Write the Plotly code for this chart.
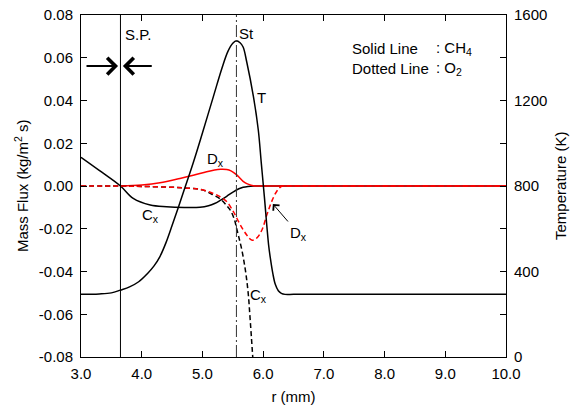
import plotly.graph_objects as go

# ---- data ----
# Temperature (K), right axis
r_T = [3.0, 3.3, 3.5, 3.65, 3.8, 3.95, 4.1, 4.2, 4.3, 4.4, 4.5, 4.6, 4.7, 4.85, 5.0,
       5.18, 5.32, 5.42, 5.5, 5.56, 5.62, 5.67, 5.73, 5.84, 5.92, 5.97, 6.02, 6.09, 6.12,
       6.16, 6.2, 6.25, 6.3, 6.36, 6.5, 7.0, 10.0]
T = [293, 295, 300, 313, 328, 352, 392, 425, 470, 535, 615, 697, 782, 910, 1048,
     1218, 1350, 1430, 1468, 1480, 1470, 1450, 1380, 1218, 1062, 906, 750, 524, 460,
     390, 340, 310, 298, 293, 293, 293, 293]

# CH4 convective flux Cx (solid black)
r_cx_ch4 = [3.0, 3.3, 3.65, 3.86, 4.14, 4.41, 4.7, 4.96, 5.1, 5.2, 5.3, 5.4, 5.51, 5.6,
            5.67, 5.75, 5.85, 6.0, 6.5, 10.0]
cx_ch4 = [0.0134, 0.0073, 0.0, -0.0058, -0.0089, -0.0097, -0.0100, -0.0099, -0.0092,
          -0.0082, -0.0066, -0.0048, -0.0027, -0.0013, -0.0006, -0.0002, 0.0, 0.0, 0.0, 0.0]

# CH4 diffusive flux Dx (solid red)
r_dx_ch4 = [3.65, 4.0, 4.3, 4.63, 4.85, 5.07, 5.2, 5.3, 5.4, 5.47, 5.56, 5.62, 5.67,
            5.73, 5.8, 5.9, 6.0, 6.5, 10.0]
dx_ch4 = [0.0, 0.0005, 0.0015, 0.0035, 0.0050, 0.0067, 0.0075, 0.0078, 0.0077, 0.0071,
          0.0053, 0.0036, 0.0022, 0.0011, 0.0004, 0.0, 0.0, 0.0, 0.0]

# O2 convective flux Cx (dashed black)
r_cx_o2 = [3.0, 3.65, 4.0, 4.5, 4.8, 5.0, 5.18, 5.3, 5.4, 5.47, 5.53, 5.56, 5.6, 5.65,
           5.7, 5.73, 5.76, 5.78, 5.8, 5.83]
cx_o2 = [0.0, 0.0, -0.0002, -0.0006, -0.0011, -0.0018, -0.0042, -0.0062, -0.0092, -0.0118,
         -0.016, -0.0195, -0.024, -0.030, -0.038, -0.044, -0.052, -0.060, -0.068, -0.0805]

# O2 diffusive flux Dx (dashed red)
r_dx_o2 = [3.0, 3.65, 4.0, 4.5, 4.8, 5.0, 5.18, 5.29, 5.4, 5.51, 5.62, 5.73, 5.81, 5.89,
           5.98, 6.06, 6.14, 6.22, 6.31, 6.4, 6.6, 10.0]
dx_o2 = [0.0, 0.0, -0.0002, -0.0006, -0.0011, -0.0018, -0.0035, -0.0050, -0.0073, -0.012,
         -0.018, -0.0229, -0.0253, -0.0245, -0.0206, -0.0136, -0.0073, -0.0027, 0.0, 0.0,
         0.0, 0.0]

x_ticks = [3, 4, 5, 6, 7, 8, 9, 10]
x_ticklabels = ["3.0", "4.0", "5.0", "6.0", "7.0", "8.0", "9.0", "10.0"]
y_ticks = [-0.08, -0.06, -0.04, -0.02, 0.0, 0.02, 0.04, 0.06, 0.08]
y_ticklabels = ["-0.08", "-0.06", "-0.04", "-0.02", "0.00", "0.02", "0.04", "0.06", "0.08"]
y2_ticks = [0, 400, 800, 1200, 1600]
y2_ticklabels = ["0", "400", "800", "1200", "1600"]

sp_r = 3.65
st_r = 5.56

FONT = "Arial, Liberation Sans, sans-serif"
fig = go.Figure()

SM = 1.0
fig.add_trace(go.Scatter(x=r_cx_ch4, y=cx_ch4, mode="lines",
                         line=dict(color="black", width=1.5, shape="spline", smoothing=SM)))
fig.add_trace(go.Scatter(x=r_dx_ch4, y=dx_ch4, mode="lines",
                         line=dict(color="red", width=1.5, shape="spline", smoothing=SM)))
fig.add_trace(go.Scatter(x=r_cx_o2, y=cx_o2, mode="lines",
                         line=dict(color="black", width=1.5, dash="5px,3px",
                                   shape="spline", smoothing=SM)))
fig.add_trace(go.Scatter(x=r_dx_o2, y=dx_o2, mode="lines",
                         line=dict(color="red", width=1.5, dash="5px,3px",
                                   shape="spline", smoothing=SM)))
fig.add_trace(go.Scatter(x=r_T, y=T, mode="lines", yaxis="y2",
                         line=dict(color="black", width=1.5, shape="spline", smoothing=SM)))

# S.P. and St lines
fig.add_shape(type="line", xref="x", yref="paper", x0=sp_r, x1=sp_r, y0=0, y1=1,
              line=dict(color="black", width=1))
fig.add_shape(type="line", xref="x", yref="paper", x0=st_r, x1=st_r, y0=0, y1=1,
              line=dict(color="#333333", width=1, dash="12px,3px,2px,3px"))

ann = []
def txt(x, y, s, xanchor="center", size=15):
    ann.append(dict(x=x, y=y, xref="x", yref="y", text=s, showarrow=False,
                    xanchor=xanchor, yanchor="middle",
                    font=dict(family=FONT, size=size, color="black")))

txt(3.94, 0.0711, "S.P.")
txt(5.73, 0.0713, "St")
txt(5.98, 0.0416, "T")
txt(5.21, 0.0126, "D<sub>x</sub>")
txt(4.14, -0.0140, "C<sub>x</sub>")
txt(6.58, -0.0220, "D<sub>x</sub>")
txt(5.92, -0.0510, "C<sub>x</sub>")
txt(7.43, 0.0641, "Solid Line", xanchor="left")
txt(7.43, 0.0552, "Dotted Line", xanchor="left")
txt(8.82, 0.0641, ": CH<sub>4</sub>", xanchor="left")
txt(8.82, 0.0552, ": O<sub>2</sub>", xanchor="left")

# axis titles for the two y axes, placed in the margins
ann.append(dict(x=-0.141, y=0.5, xref="paper", yref="paper", showarrow=False,
                text="Mass Flux (kg/m<sup>2</sup> s)", textangle=-90,
                xanchor="center", yanchor="middle",
                font=dict(family=FONT, size=15, color="black")))
ann.append(dict(x=1.127, y=0.5, xref="paper", yref="paper", showarrow=False,
                text="Temperature (K)", textangle=-90,
                xanchor="center", yanchor="middle",
                font=dict(family=FONT, size=15, color="black")))

# arrows
def arrow(x, y, ax, ay, width, size):
    ann.append(dict(x=x, y=y, ax=ax, ay=ay, xref="x", yref="y", axref="x", ayref="y",
                    text="", showarrow=True, arrowhead=4, arrowsize=size,
                    arrowwidth=width, arrowcolor="black"))

arrow(3.61, 0.0561, 3.066, 0.0561, 2, 1.6)
arrow(3.69, 0.0561, 4.19, 0.0561, 2, 1.6)
arrow(6.16, -0.0084, 6.43, -0.0173, 1, 1.6)

axis_font = dict(family=FONT, size=15, color="black")
fig.update_layout(
    width=577, height=407,
    margin=dict(l=81, r=71, t=15, b=50, autoexpand=False),
    paper_bgcolor="white", plot_bgcolor="white",
    showlegend=False,
    font=axis_font,
    annotations=ann,
    xaxis=dict(range=[3, 10], tickvals=x_ticks, ticktext=x_ticklabels,
               ticks="inside", ticklen=6, tickcolor="black", ticklabelstandoff=3,
               showline=True, linecolor="black", linewidth=1, mirror="ticks",
               showgrid=False, zeroline=False, automargin=False,
               title=dict(text="r (mm)", font=axis_font, standoff=10),
               tickfont=axis_font),
    yaxis=dict(range=[-0.08, 0.08], tickvals=y_ticks, ticktext=y_ticklabels,
               ticks="inside", ticklen=6, tickcolor="black", ticklabelstandoff=4,
               showline=True, linecolor="black", linewidth=1,
               showgrid=False, zeroline=False, automargin=False,
               tickfont=axis_font),
    yaxis2=dict(range=[0, 1600], overlaying="y", side="right",
                tickvals=y2_ticks, ticktext=y2_ticklabels,
                ticks="inside", ticklen=6, tickcolor="black", ticklabelstandoff=4,
                minor=dict(dtick=200, ticks="inside", ticklen=6, tickcolor="black"),
                showline=True, linecolor="black", linewidth=1,
                showgrid=False, zeroline=False, automargin=False,
                tickfont=axis_font),
)

fig.write_html("out.html")
